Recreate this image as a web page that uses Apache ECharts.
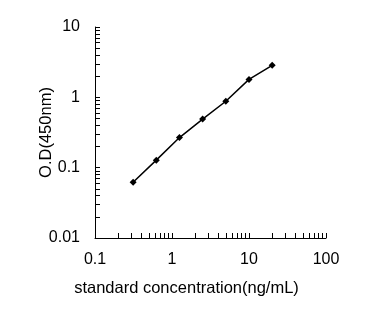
<!DOCTYPE html>
<html><head><meta charset="utf-8">
<script src="https://cdn.jsdelivr.net/npm/echarts@6/dist/echarts.min.js"></script>
<style>html,body{margin:0;padding:0;background:#fff}#c{width:381px;height:332px}</style>
</head><body><div id="c"></div>
<script>
var concentrations = [0.3125, 0.625, 1.25, 2.5, 5, 10, 20];
var odValues = [0.062, 0.128, 0.268, 0.49, 0.88, 1.8, 2.85];
var xLabels = [0.1, 1, 10, 100];
var yLabels = [0.01, 0.1, 1, 10];
var xTitle = 'standard concentration(ng/mL)';
var yTitle = 'O.D(450nm)';

function logTicks(lo, hi) {
  var out = [];
  for (var d = lo; d < hi * 0.999; d *= 10) {
    for (var k = 1; k <= 9; k++) out.push(+(d * k).toPrecision(6));
  }
  out.push(hi);
  return out;
}
var font = '"Liberation Sans", Arial, sans-serif';
var chart = echarts.init(document.getElementById('c'), null, {renderer: 'canvas'});
chart.setOption({
  animation: false,
  backgroundColor: '#fff',
  grid: {left: 95, right: 55, top: 27, bottom: 94, containLabel: false},
  xAxis: {
    type: 'log', logBase: 10, min: 0.1, max: 100,
    name: xTitle, nameLocation: 'middle', nameGap: 42, nameMoveOverlap: false,
    nameTextStyle: {color: '#000', fontSize: 16.5, fontFamily: font, padding: [0, 48, 0, 0]},
    axisLine: {show: true, lineStyle: {color: '#000', width: 1}},
    axisTick: {show: true, inside: true, length: 5, lineStyle: {color: '#000'}, customValues: logTicks(0.1, 100)},
    axisLabel: {color: '#000', fontSize: 16, fontFamily: font, margin: 14, customValues: xLabels,
      formatter: function (v) { return String(+v.toPrecision(6)); }},
    splitLine: {show: false}, minorTick: {show: false}
  },
  yAxis: {
    type: 'log', logBase: 10, min: 0.01, max: 10,
    name: yTitle, nameLocation: 'middle', nameGap: 40, nameMoveOverlap: false,
    nameTextStyle: {color: '#000', fontSize: 16.5, fontFamily: font, padding: [0, 0, 0, 0]},
    axisLine: {show: true, lineStyle: {color: '#000', width: 1}},
    axisTick: {show: true, inside: true, length: 5, lineStyle: {color: '#000'}, customValues: logTicks(0.01, 10)},
    axisLabel: {color: '#000', fontSize: 16, fontFamily: font, margin: 15, customValues: yLabels,
      formatter: function (v) { return String(+v.toPrecision(6)); }},
    splitLine: {show: false}, minorTick: {show: false}
  },
  series: [{
    type: 'line',
    data: concentrations.map(function (c, i) { return [c, odValues[i]]; }),
    symbol: 'diamond', symbolSize: 7,
    itemStyle: {color: '#000'},
    lineStyle: {color: '#000', width: 1.5}
  }]
});
</script></body></html>
